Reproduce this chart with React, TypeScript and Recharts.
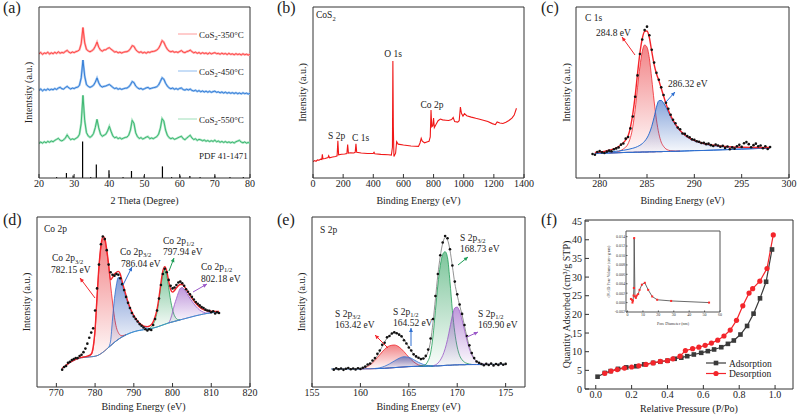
// Six-panel characterisation figure: XRD, XPS survey, C 1s, Co 2p, S 2p and N2 isotherm.
import React from 'react'
import { ComposedChart, Line, Area, Scatter, XAxis, YAxis, ReferenceLine } from 'recharts'

// ---------- (a) XRD ----------
const XRD_ANGLE = [20,20.5,21,21.5,22,22.5,23,23.5,24,24.5,25,25.5,26,26.5,27,27.5,28,28.5,29,29.5,30,30.5,31,31.5,32,32.5,33,33.5,34,34.5,35,35.5,36,36.5,37,37.5,38,38.5,39,39.5,40,40.5,41,41.5,42,42.5,43,43.5,44,44.5,45,45.5,46,46.5,47,47.5,48,48.5,49,49.5,50,50.5,51,51.5,52,52.5,53,53.5,54,54.5,55,55.5,56,56.5,57,57.5,58,58.5,59,59.5,60,60.5,61,61.5,62,62.5,63,63.5,64,64.5,65,65.5,66,66.5,67,67.5,68,68.5,69,69.5,70,70.5,71,71.5,72,72.5,73,73.5,74,74.5,75,75.5,76,76.5,77,77.5,78,78.5,79,79.5,80]
const XRD_350 = [72.6,73.4,72.3,73.1,72.8,73.6,72.5,73.2,72.7,73.5,72.9,73.8,73.0,73.4,73.2,74.0,74.6,73.6,73.1,73.7,73.3,73.9,74.2,75.0,78.5,88.0,79.0,75.2,74.3,73.8,74.4,75.2,77.0,79.5,76.4,74.8,74.2,74.9,75.0,75.8,76.2,75.3,74.5,73.7,73.9,73.2,73.6,73.1,73.5,73.8,73.9,74.4,75.6,77.4,77.0,75.1,74.0,73.4,73.8,73.1,73.5,73.0,73.7,73.4,73.9,74.0,74.3,74.8,75.8,77.8,80.3,79.4,77.0,75.3,74.2,73.8,74.1,73.5,73.8,73.4,74.0,74.5,73.6,73.3,73.9,74.2,74.8,73.9,73.2,73.6,72.9,73.4,72.7,73.3,72.8,73.1,72.5,73.2,72.6,73.0,73.3,72.7,72.9,72.4,73.0,72.5,72.8,72.2,72.9,72.3,72.6,72.1,72.7,72.2,72.5,72.0,72.6,72.1,72.4,71.9,72.3]
const XRD_450 = [51.2,52.0,51.0,51.8,51.3,52.1,51.4,51.9,51.6,52.3,51.8,52.6,53.0,52.2,52.0,52.9,53.6,52.7,52.1,52.6,52.3,52.9,53.1,54.2,58.5,69.0,59.5,54.6,53.6,53.0,53.5,54.2,56.0,58.5,55.6,53.8,53.2,53.6,53.8,54.3,54.7,53.9,53.0,52.3,52.6,51.9,52.3,51.8,52.2,52.5,52.6,53.2,54.5,56.4,55.8,53.8,52.8,52.1,52.4,51.8,52.2,52.7,53.0,52.2,52.5,52.8,53.0,53.4,54.4,56.4,58.6,57.8,55.4,53.8,52.7,52.2,52.6,51.9,52.3,51.8,52.4,52.6,51.7,51.4,51.9,51.5,52.0,51.2,50.9,51.3,50.6,51.1,50.4,50.9,50.3,50.8,50.2,50.7,50.1,50.5,50.8,50.1,50.4,49.8,50.3,49.7,50.2,49.6,50.0,49.5,49.9,49.4,49.9,49.3,49.7,49.2,49.8,49.3,49.6,49.1,49.5]
const XRD_550 = [20.2,21.0,20.4,21.2,20.6,21.4,20.9,21.6,21.2,22.0,22.6,23.2,22.1,21.7,22.3,23.4,25.2,23.6,22.4,22.9,22.5,23.2,23.8,25.5,32.0,48.3,33.5,26.5,24.6,23.8,24.5,26.0,29.5,34.3,29.2,25.6,24.4,25.0,25.6,27.5,30.2,27.2,24.6,23.5,23.9,23.0,23.5,22.8,23.3,23.7,23.9,25.0,28.0,33.7,32.0,26.4,24.2,23.1,23.6,22.8,23.3,23.9,24.2,23.0,23.4,23.0,23.6,24.2,25.6,29.0,34.7,33.2,28.0,25.0,23.6,23.0,23.4,22.6,23.0,23.5,24.0,24.4,23.0,22.4,23.3,24.2,25.0,23.4,22.5,22.9,22.0,22.6,22.3,21.8,22.2,21.5,21.9,21.3,21.8,21.4,22.1,21.2,21.6,20.9,21.4,20.8,21.3,20.7,21.1,20.6,21.0,20.5,21.2,21.6,22.0,21.0,20.6,21.1,20.4,20.8,20.3]
const PDF_ANGLE = [25.0, 27.8, 29.7, 32.4, 34.7, 36.3, 39.9, 43.9, 46.3, 49.9, 55.1, 57.7, 60.1, 62.9, 65.8, 70.0, 74.3, 78.1]
const PDF_HEIGHT = [0.6, 2.9, 1.5, 21.3, 0.6, 7.9, 4.5, 0.6, 4.1, 1.5, 6.8, 0.6, 1.5, 1.2, 0.6, 1.5, 0.6, 0.6]
const XRD_TICKS = [20, 30, 40, 50, 60, 70, 80]

// ---------- (b) survey ----------
const SURVEY_BE = [0,10,20,30,40,50,58,62,66,80,100,104,110,130,150,160,165,170,190,210,225,230,235,250,270,280,285,290,320,360,400,405,410,450,500,520,527,530,533,537,548,555,565,600,650,700,710,718,725,740,760,770,778,783,788,795,800,805,815,830,845,860,880,900,920,930,940,960,970,978,985,995,1005,1020,1050,1080,1100,1130,1160,1190,1210,1222,1240,1260,1280,1300,1320,1335,1350]
const SURVEY_I = [9.5,10.2,9.8,10.6,10.4,11.0,10.8,13.8,11.2,11.4,12.0,13.0,11.8,12.3,12.6,13.0,21.8,13.6,13.9,14.0,14.3,19.5,14.6,14.8,14.6,15.0,20.0,15.0,14.6,14.3,14.4,15.0,14.2,13.8,13.6,13.4,18,68.4,30,12.6,14.5,21.2,19.8,19.3,18.7,18.5,20.5,23.2,21.5,20.6,21.2,21.5,24,39.8,30,30.6,35.0,29.5,31.2,33.5,34.5,34.0,33.8,33.6,34.2,35.4,33.0,32.7,33.5,41.5,37.8,36.2,37.6,36.4,35.6,34.9,34.5,33.8,33.0,31.8,31.2,32.8,32.2,31.9,32.6,33.6,35.0,36.8,40.8]
const SURVEY_TICKS = [0, 200, 400, 600, 800, 1000, 1200, 1400]

// ---------- (c) C 1s ----------
const C1S_BE = [279.5,280,280.5,281,281.5,282,282.5,283,283.5,283.75,284,284.25,284.5,284.75,285,285.25,285.5,285.75,286,286.25,286.5,286.75,287,287.25,287.5,288,288.5,289,289.5,290,291,292,293,294,295,296,297,298]
const C1S_BASE = [14.4,14.5,14.5,14.6,14.7,14.8,14.9,15.0,15.0,15.1,15.1,15.1,15.2,15.2,15.2,15.3,15.3,15.3,15.4,15.4,15.4,15.5,15.5,15.5,15.6,15.6,15.7,15.8,15.9,16.0,16.1,16.3,16.5,16.7,16.9,17.1,17.3,17.5]
const C1S_P1 = [null,null,null,14.7,14.9,15.5,17,20,30,40,53,65,74,77.8,76.5,70,58,45,34,26,21,18.5,17,16.3,15.9,15.7,15.7,null,null,null,null,null,null,null,null,null,null,null]
const C1S_P2 = [14.8,15.0,15.1,15.3,15.5,15.8,16.2,16.7,17.4,17.8,18.4,19.1,20.1,21.5,23.4,26.2,30.2,35.5,41.4,45.2,45.4,43.8,41.5,38.6,35.8,31.0,27.4,24.9,23.0,21.7,19.9,18.9,18.3,17.9,17.7,17.6,17.5,17.6]
const C1S_FIT = [14.9,15.2,15.6,16.2,17.0,18.4,20.7,24.5,37.5,48,61,73,81.5,85.7,86.0,82,74,66.5,61,57,52.5,48,43.5,39.8,36.5,31.5,27.8,25.2,23.3,22.0,20.2,19.2,18.6,18.2,18.0,17.9,17.8,17.8]
const C1S_DOT_BE = [279.25,279.5,279.75,280,280.25,280.5,280.75,281,281.25,281.5,281.75,282,282.25,282.5,282.75,283,283.25,283.5,283.75,284,284.25,284.5,284.75,285,285.25,285.5,285.75,286,286.25,286.5,286.75,287,287.25,287.5,287.75,288,288.25,288.5,288.75,289,289.25,289.5,289.75,290,290.25,290.5,290.75,291,291.25,291.5,291.75,292,292.25,292.5,292.75,293,293.25,293.5,293.75,294,294.25,294.5,294.75,295,295.25,295.5,295.75,296,296.25,296.5,296.75,297,297.25,297.5,297.75,298]
const C1S_DOT_I = [14.0,13.6,15.2,15.8,15.0,14.6,15.4,16.0,15.6,16.8,17.3,17.9,19.5,20.2,23.0,24.0,29.0,36.0,47.5,60.0,72.5,81.0,86.5,88.5,83.5,75.0,67.5,61.5,57.5,53.0,48.5,44.0,40.5,37.0,34.0,32.0,29.5,28.5,26.0,25.8,24.5,23.8,22.6,22.3,21.5,21.2,20.5,20.6,19.8,20.1,19.2,18.7,19.6,19.0,18.3,18.8,17.6,18.4,16.8,17.9,17.2,18.6,19.4,18.2,20.3,21.0,19.8,18.0,19.2,20.1,18.5,19.0,17.4,18.6,17.0,18.1]
const C1S_TICKS = [280, 285, 290, 295, 300]

// ---------- (d) Co 2p ----------
const CO_BE = [771.5,772.5,773.5,774.5,775.5,776.5,777.5,778.5,779,779.5,780,780.5,781,781.5,782,782.5,783,783.5,784,784.5,785,785.5,786,786.5,787,787.5,788,788.5,789,789.5,790,790.5,791,791.5,792,792.5,793,793.5,794,794.5,795,795.5,796,796.5,797,797.5,798,798.5,799,799.5,800,800.5,801,801.5,802,802.5,803,804,805,806,807,808,809,810,811,812]
const CO_BASE = [10.9,12.6,14.3,15.6,16.6,17.2,17.5,17.7,17.8,17.9,18.1,18.4,18.9,19.6,20.4,21.3,22.3,23.3,24.3,25.3,26.3,27.2,28.0,28.8,29.5,30.1,30.7,31.2,31.7,32.1,32.5,32.8,33.1,33.3,33.5,33.7,33.9,34.0,34.2,34.4,34.7,35.0,35.3,35.7,36.1,36.5,36.9,37.3,37.7,38.0,38.3,38.6,38.9,39.2,39.5,39.8,40.1,40.7,41.3,41.9,42.4,42.9,43.3,43.7,44.0,44.3]
const CO_FIT = [11.0,12.7,14.4,15.7,16.7,17.4,17.9,18.6,19.4,23.5,34,53,71,83,88.5,87.5,81,72,63,64.5,66.5,67.5,68,66.5,62,57.8,53.8,50,46.8,44.2,42,40.2,38.7,37.5,36.6,36,35.6,35.5,35.8,36.6,38.3,41.3,45.8,52.8,61.3,68.3,70.8,68.3,62.3,57.3,55.8,56.8,58.3,59.6,60.3,60.3,59.3,55.8,52.3,49.3,47,45.5,44.8,44.6,44.5,44.5]
const CO_P1 = [null,null,null,null,null,17.3,17.7,18.3,19.0,22.5,33,52,70,82,87.5,86,80,71,60,50,41,35,32,30.5,30.2,30.4,30.9,null,null,null,null,null,null,null,null,null,null,null,null,null,null,null,null,null,null,null,null,null,null,null,null,null,null,null,null,null,null,null,null,null,null,null,null,null,null,null]
const CO_P2 = [null,null,null,null,null,null,null,null,null,null,null,null,null,null,null,null,null,23.5,27,40,52,60,64.5,64,60,56,52.3,49,46,43.5,41.3,39.6,38.2,37,36.1,35.4,34.9,34.6,34.4,34.5,null,null,null,null,null,null,null,null,null,null,null,null,null,null,null,null,null,null,null,null,null,null,null,null,null,null]
const CO_P3 = [null,null,null,null,null,null,null,null,null,null,null,null,null,null,null,null,null,null,null,null,null,null,null,null,null,null,null,null,null,null,null,null,null,null,null,null,null,34.0,34.4,35.2,36.8,39.5,44,51,59.5,66.5,68.8,65.5,58.5,51,45.5,42,40.2,39.6,39.5,null,null,null,null,null,null,null,null,null,null,null]
const CO_P4 = [null,null,null,null,null,null,null,null,null,null,null,null,null,null,null,null,null,null,null,null,null,null,null,null,null,null,null,null,null,null,null,null,null,null,null,null,null,null,null,null,null,null,null,null,null,null,null,null,37.7,40,44,48.5,52,55.5,58,58.5,57.5,54,50.5,47.5,45.3,44,43.5,43.7,null,null]
const CO_DOT_BE = [771.5,772,772.5,773,773.5,774,774.5,775,775.5,776,776.5,777,777.5,778,778.5,779,779.5,780,780.5,781,781.5,782,782.5,783,783.5,784,784.5,785,785.5,786,786.5,787,787.5,788,788.5,789,789.5,790,790.5,791,791.5,792,792.5,793,793.5,794,794.5,795,795.5,796,796.5,797,797.5,798,798.5,799,799.5,800,800.5,801,801.5,802,802.5,803,803.5,804,804.5,805,805.5,806,806.5,807,807.5,808,808.5,809,809.5,810,810.5,811,811.5,812]
const CO_DOT_I = [10.2,11.8,12.4,14.2,14.8,15.9,16.4,17.1,17.0,18.2,19.0,20.5,22.6,25.5,29.0,32.0,34.5,45,58,72,84,88.5,87,80.5,72,67.5,66,65.5,66.5,66,64,60.5,57,53,49.5,46.5,43.5,41.5,40,38.5,37,36,35,34,33.2,34,33.5,36.5,40,45,52,60,66.5,69.5,67.5,63,59.5,58,58.5,60,61.5,62,61,59.5,57.5,56,54.5,53,51.5,50,49,48,47,46.5,45.5,45,44.8,44,44.6,43.2,44.0,43.5]
const CO_TICKS = [770, 780, 790, 800, 810, 820]

// ---------- (e) S 2p ----------
const S_BE = [157,157.5,158,158.5,159,159.5,160,160.5,161,161.5,162,162.5,163,163.5,164,164.5,165,165.5,166,166.5,167,167.25,167.5,167.75,168,168.25,168.5,168.75,169,169.25,169.5,169.75,170,170.25,170.5,170.75,171,171.25,171.5,172,172.5,173,173.5,174,174.5,175]
const S_BASE = [10.6,10.6,10.6,10.6,10.6,10.6,10.6,10.7,10.7,10.8,10.9,11.0,11.2,11.4,11.6,11.8,12.0,12.1,12.2,12.2,12.3,12.3,12.3,12.4,12.4,12.5,12.6,12.7,12.8,12.8,12.9,13.0,13.0,13.1,13.1,13.1,13.2,13.2,13.2,13.2,13.2,13.2,13.3,13.3,13.3,13.3]
const S_FIT = [10.6,10.6,10.7,10.7,10.8,10.9,11.1,11.8,13.4,16.3,21,26.5,30.3,31.8,30.9,28.0,23.5,19.3,17.0,16.6,21,27,38,52,66,77,84.5,88,86.5,80.5,71,61,54,48,42.5,36,29.5,24,19.8,15.2,13.8,13.4,13.3,13.3,13.3,13.3]
const S_P1 = [null,null,null,null,null,null,10.6,11.4,13,15.6,19,22.2,24.2,24.7,23.5,20.8,17.5,14.8,13.0,12.4,null,null,null,null,null,null,null,null,null,null,null,null,null,null,null,null,null,null,null,null,null,null,null,null,null,null]
const S_P2 = [null,null,null,null,null,null,null,null,null,10.9,11.3,12.2,13.6,15.3,16.9,17.8,17.5,16.1,14.5,13.3,12.6,12.4,12.3,null,null,null,null,null,null,null,null,null,null,null,null,null,null,null,null,null,null,null,null,null,null,null]
const S_P3 = [null,null,null,null,null,null,null,null,null,null,null,null,null,null,null,null,null,null,12.2,12.5,15.5,20,30,45,60,71.5,78,79.6,76,62,45,32,23.5,18.5,16,14.6,13.9,13.5,13.3,null,null,null,null,null,null,null]
const S_P4 = [null,null,null,null,null,null,null,null,null,null,null,null,null,null,null,null,null,null,null,null,null,null,12.4,13.0,14.0,15.8,18.5,22.5,28,35,42,46.5,47,44.5,39.5,33.5,27.5,22.5,18.8,15.0,13.8,13.4,13.3,null,null,null]
const S_DOT_BE = [157.25,157.5,157.75,158,158.25,158.5,158.75,159,159.25,159.5,159.75,160,160.25,160.5,160.75,161,161.25,161.5,161.75,162,162.25,162.5,162.75,163,163.25,163.5,163.75,164,164.25,164.5,164.75,165,165.25,165.5,165.75,166,166.25,166.5,166.75,167,167.25,167.5,167.75,168,168.25,168.5,168.75,169,169.25,169.5,169.75,170,170.25,170.5,170.75,171,171.25,171.5,171.75,172,172.25,172.5,172.75,173,173.25,173.5,173.75,174,174.25,174.5,174.75,175]
const S_DOT_I = [10.2,11.0,10.4,10.9,10.1,10.7,11.2,10.4,10.9,10.3,11.0,10.6,11.3,12.0,13.2,13.8,15.6,17.0,19.5,21.5,24.8,26.0,29.2,30.0,31.5,32.2,31.6,30.8,29.8,27.5,25.6,23.2,21.5,19.2,18.0,17.2,16.4,16.8,18.3,22.0,28.5,40.0,53.5,66.5,77.5,85.0,88.8,87.5,81.0,71.5,62.0,54.5,48.5,43.0,36.5,30.0,24.5,20.0,17.0,15.0,14.2,13.5,12.8,13.6,12.9,13.8,12.7,13.5,13.0,14.0,13.1,13.6]
const S_TICKS = [155, 160, 165, 170, 175]

// ---------- (f) N2 isotherm + pore size inset ----------
const ADS_P = [0.01,0.05,0.083,0.124,0.17,0.226,0.27,0.32,0.36,0.4,0.44,0.477,0.51,0.547,0.588,0.625,0.66,0.7,0.737,0.77,0.807,0.844,0.88,0.916,0.95,0.983]
const ADS_Q = [3.3,4.3,4.8,5.4,5.8,6.1,6.6,7.0,7.3,7.6,8.1,8.4,8.8,9.25,9.7,10.15,10.6,11.2,12.1,13.0,14.6,16.9,20.2,24.3,28.75,37.4]
const DES_P = [0.05,0.085,0.12,0.16,0.2,0.24,0.28,0.32,0.36,0.4,0.43,0.47,0.5,0.54,0.575,0.61,0.645,0.68,0.715,0.75,0.785,0.82,0.855,0.875,0.915,0.955,0.99]
const DES_Q = [4.2,4.8,5.2,5.6,5.9,6.2,6.6,7.0,7.4,7.6,8.1,8.8,10.3,10.8,11.2,11.7,12.3,13.1,14.2,15.8,18.4,22.3,25.7,26.9,28.9,32.3,41.3]
const PORE_D = [2.2,3.0,3.2,3.5,3.9,4.1,4.3,4.8,5.4,6.0,6.9,7.8,9.3,11.2,13.4,16.0,19.2,28.3,52.9]
const PORE_V = [0.00077,0.00056,0.0,0.0004,0.0015,0.0031,0.0137,0.0013,0.001,0.0015,0.0018,0.0027,0.0038,0.0042,0.0027,0.0013,0.0006,0.00035,0.0]
const ISO_XTICKS = [0, 0.2, 0.4, 0.6, 0.8, 1.0]
const ISO_YTICKS = [0, 5, 10, 15, 20, 25, 30, 35, 40, 45]
const PORE_XTICKS = [0, 10, 20, 30, 40, 50, 60]
const PORE_YTICKS = [-0.002, 0, 0.002, 0.004, 0.006, 0.008, 0.01, 0.012, 0.014]

const FONT = '"Liberation Serif", "Times New Roman", serif'
const INK = '#333'
const RED = '#f3252b'
const BLUE = '#2e6fd0'
const GREEN = '#1f9d57'
const PURPLE = '#9a57c8'
const TICK = { fontSize: 10, fill: '#222', fontFamily: FONT }
const RM = 12
const MARGIN = { top: 4, right: RM, left: 0, bottom: 0 }

type Box = { l: number; r: number; t: number; b: number }
const FA: Box = { l: 39, r: 250, t: 7, b: 178 }
const FB: Box = { l: 313, r: 524, t: 7, b: 178 }
const FC: Box = { l: 576, r: 789, t: 7, b: 178 }
const FD: Box = { l: 37, r: 250, t: 217, b: 387 }
const FE: Box = { l: 312, r: 525, t: 217, b: 387 }
const FF: Box = { l: 585, r: 793, t: 220, b: 389 }
const FI: Box = { l: 626, r: 720, t: 231, b: 312 }

// chart box so that the plot area lands exactly on the frame
function dims(f: Box, yw = 42, xh = 32) {
  return { left: f.l - yw, top: f.t - 4, width: yw + (f.r - f.l) + RM, height: 4 + (f.b - f.t) + xh }
}

const xAxis = (domain: number[], ticks: number[], title: string, offset: number, fmt?: (v: number) => string) => ({
  type: 'number' as const, dataKey: 'x', domain, ticks, allowDataOverflow: true, interval: 0 as const,
  tickSize: -4, tickMargin: 6, stroke: INK, tick: TICK, height: 32, tickFormatter: fmt,
  label: { value: title, position: 'insideBottom' as const, offset, fontSize: 10, fill: '#222', fontFamily: FONT },
})
const yTitle = (title: string, offset: number) => ({
  value: title, angle: -90, position: 'insideLeft' as const, offset,
  fontSize: 10, fill: '#222', fontFamily: FONT, style: { textAnchor: 'middle' as const },
})

const rangeOf = (k: string) => (d: any) => (d[k] == null ? [d.base, null] : [d.base, d[k]])
const smallDot = (p: any) => <circle cx={p.cx} cy={p.cy} r={1.3} fill="#111" />
const square = (p: any) => <rect key={p.index} x={p.cx - 2.3} y={p.cy - 2.3} width={4.6} height={4.6} fill="#3a3a3a" />
const circle = (p: any) => <circle key={p.index} cx={p.cx} cy={p.cy} r={2.6} fill={RED} />
const poreDot = (p: any) => <rect key={p.index} x={p.cx - 1} y={p.cy - 1} width={2} height={2} fill="#ff2a2a" />

function grad(id: string, color: string) {
  return (
    <linearGradient id={id} x1="0" y1="0" x2="0" y2="1">
      <stop offset="0%" stopColor={color} stopOpacity={0.95} />
      <stop offset="100%" stopColor={color} stopOpacity={0.04} />
    </linearGradient>
  )
}

const xrdRows = XRD_ANGLE.map((x, i) => ({ x, r: XRD_350[i], b: XRD_450[i], g: XRD_550[i] }))
const surveyRows = SURVEY_BE.map((x, i) => ({ x, y: SURVEY_I[i] }))
const c1sRows = C1S_BE.map((x, i) => ({ x, base: C1S_BASE[i], fit: C1S_FIT[i], p1: C1S_P1[i], p2: C1S_P2[i] }))
const c1sDots = C1S_DOT_BE.map((x, i) => ({ x, y: C1S_DOT_I[i] }))
const coRows = CO_BE.map((x, i) => ({ x, base: CO_BASE[i], fit: CO_FIT[i], p1: CO_P1[i], p2: CO_P2[i], p3: CO_P3[i], p4: CO_P4[i] }))
const coDots = CO_DOT_BE.map((x, i) => ({ x, y: CO_DOT_I[i] }))
const sRows = S_BE.map((x, i) => ({ x, base: S_BASE[i], fit: S_FIT[i], p1: S_P1[i], p2: S_P2[i], p3: S_P3[i], p4: S_P4[i] }))
const sDots = S_DOT_BE.map((x, i) => ({ x, y: S_DOT_I[i] }))
const adsRows = ADS_P.map((x, i) => ({ x, y: ADS_Q[i] }))
const desRows = DES_P.map((x, i) => ({ x, y: DES_Q[i] }))
const poreRows = PORE_D.map((x, i) => ({ x, y: PORE_V[i] }))

// subscript tspan; "rest" continues on the normal baseline
const Sub = ({ s, rest }: { s: string; rest?: string }) => (
  <>
    <tspan dy={2.5} fontSize={6.5}>{s}</tspan>
    {rest ? <tspan dy={-2.5}>{rest}</tspan> : null}
  </>
)

function Arrow({ x1, y1, x2, y2, c }: { x1: number; y1: number; x2: number; y2: number; c: string }) {
  const a = Math.atan2(y2 - y1, x2 - x1)
  const h = 4.5
  const p1 = `${x2},${y2}`
  const p2 = `${x2 - h * Math.cos(a - 0.45)},${y2 - h * Math.sin(a - 0.45)}`
  const p3 = `${x2 - h * Math.cos(a + 0.45)},${y2 - h * Math.sin(a + 0.45)}`
  return (
    <g>
      <line x1={x1} y1={y1} x2={x2} y2={y2} stroke={c} strokeWidth={1} />
      <polygon points={`${p1} ${p2} ${p3}`} fill={c} />
    </g>
  )
}

export default function App() {
  const da = dims(FA), db = dims(FB), dc = dims(FC), dd = dims(FD), de = dims(FE), df = dims(FF), di = dims(FI, 22, 14)
  return (
    <div style={{ position: 'absolute', left: 0, top: 0, width: 798, height: 418, background: '#fff', fontFamily: FONT, overflow: 'hidden' }}>
      {/* (a) XRD */}
      <div style={{ position: 'absolute', left: da.left, top: da.top }}>
        <ComposedChart width={da.width} height={da.height} margin={MARGIN} data={xrdRows}>
          <XAxis {...xAxis([20, 80], XRD_TICKS, '2 Theta (Degree)', 6)} />
          <YAxis type="number" domain={[0, 100]} allowDataOverflow tick={false} tickLine={false} stroke={INK} width={42} label={yTitle('Intentsity (a.u.)', 31)} />
          <ReferenceLine x={80} stroke={INK} />
          <ReferenceLine y={100} stroke={INK} />
          <Line dataKey="r" type="linear" stroke="#ffaaaa" strokeWidth={2.2} dot={false} isAnimationActive={false} />
          <Line dataKey="r" type="linear" stroke="#ff3d3d" strokeWidth={0.9} dot={false} isAnimationActive={false} />
          <Line dataKey="b" type="linear" stroke="#9cc4f0" strokeWidth={2.2} dot={false} isAnimationActive={false} />
          <Line dataKey="b" type="linear" stroke="#2a76d4" strokeWidth={0.9} dot={false} isAnimationActive={false} />
          <Line dataKey="g" type="linear" stroke="#a6e3c0" strokeWidth={2.2} dot={false} isAnimationActive={false} />
          <Line dataKey="g" type="linear" stroke="#33b26a" strokeWidth={0.9} dot={false} isAnimationActive={false} />
          {PDF_ANGLE.map((a, i) => (
            <ReferenceLine key={a} segment={[{ x: a, y: 0 }, { x: a, y: PDF_HEIGHT[i] }]} stroke="#000" strokeWidth={1.2} />
          ))}
        </ComposedChart>
      </div>

      {/* (b) survey */}
      <div style={{ position: 'absolute', left: db.left, top: db.top }}>
        <ComposedChart width={db.width} height={db.height} margin={MARGIN} data={surveyRows}>
          <XAxis {...xAxis([0, 1400], SURVEY_TICKS, 'Binding Energy (eV)', 6)} />
          <YAxis type="number" domain={[0, 100]} allowDataOverflow tick={false} tickLine={false} stroke={INK} width={42} label={yTitle('Intensity (a.u.)', 31)} />
          <ReferenceLine x={1400} stroke={INK} />
          <ReferenceLine y={100} stroke={INK} />
          <Line dataKey="y" type="linear" stroke="#f01818" strokeWidth={1.1} dot={false} isAnimationActive={false} />
        </ComposedChart>
      </div>

      {/* (c) C 1s */}
      <div style={{ position: 'absolute', left: dc.left, top: dc.top }}>
        <ComposedChart width={dc.width} height={dc.height} margin={MARGIN} data={c1sRows}>
          <defs>
            {grad('c1', '#e8262b')}
            {grad('c2', '#2a5fbf')}
          </defs>
          <XAxis {...xAxis([277.5, 300], C1S_TICKS, 'Binding Energy (eV)', 6)} />
          <YAxis type="number" domain={[0, 100]} allowDataOverflow tick={false} tickLine={false} stroke={INK} width={42} label={yTitle('Intensity (a.u.)', 32.5)} />
          <ReferenceLine x={300} stroke={INK} />
          <ReferenceLine y={100} stroke={INK} />
          <Area dataKey={rangeOf('p1')} type="monotone" stroke={RED} strokeWidth={0.8} fill="url(#c1)" isAnimationActive={false} />
          <Area dataKey={rangeOf('p2')} type="monotone" stroke={BLUE} strokeWidth={1} fill="url(#c2)" isAnimationActive={false} />
          <Line dataKey="base" type="monotone" stroke={BLUE} strokeWidth={1} dot={false} isAnimationActive={false} />
          <Line dataKey="fit" type="monotone" stroke={RED} strokeWidth={1.4} dot={false} isAnimationActive={false} />
          <Scatter data={c1sDots} dataKey="y" shape={smallDot} isAnimationActive={false} />
        </ComposedChart>
      </div>

      {/* (d) Co 2p */}
      <div style={{ position: 'absolute', left: dd.left, top: dd.top }}>
        <ComposedChart width={dd.width} height={dd.height} margin={MARGIN} data={coRows}>
          <defs>
            {grad('d1', '#e8262b')}
            {grad('d2', '#2050b8')}
            {grad('d3', '#1c9a50')}
            {grad('d4', '#8e48c0')}
          </defs>
          <XAxis {...xAxis([765, 820], CO_TICKS, 'Binding Energy (eV)', 9)} />
          <YAxis type="number" domain={[0, 100]} allowDataOverflow tick={false} tickLine={false} stroke={INK} width={42} label={yTitle('Intensity (a.u.)', 31.7)} />
          <ReferenceLine x={820} stroke={INK} />
          <ReferenceLine y={100} stroke={INK} />
          <Area dataKey={rangeOf('p1')} type="monotone" stroke={RED} strokeWidth={0.8} fill="url(#d1)" isAnimationActive={false} />
          <Area dataKey={rangeOf('p2')} type="monotone" stroke={BLUE} strokeWidth={0.8} fill="url(#d2)" isAnimationActive={false} />
          <Area dataKey={rangeOf('p3')} type="monotone" stroke={GREEN} strokeWidth={0.8} fill="url(#d3)" isAnimationActive={false} />
          <Area dataKey={rangeOf('p4')} type="monotone" stroke={PURPLE} strokeWidth={0.8} fill="url(#d4)" isAnimationActive={false} />
          <Line dataKey="base" type="monotone" stroke="#3a92cf" strokeWidth={1} dot={false} isAnimationActive={false} />
          <Line dataKey="fit" type="monotone" stroke={RED} strokeWidth={1.4} dot={false} isAnimationActive={false} />
          <Scatter data={coDots} dataKey="y" shape={smallDot} isAnimationActive={false} />
        </ComposedChart>
      </div>

      {/* (e) S 2p */}
      <div style={{ position: 'absolute', left: de.left, top: de.top }}>
        <ComposedChart width={de.width} height={de.height} margin={MARGIN} data={sRows}>
          <defs>
            {grad('e1', '#e8262b')}
            {grad('e2', '#2050b8')}
            {grad('e3', '#1c9a50')}
            {grad('e4', '#8e48c0')}
          </defs>
          <XAxis {...xAxis([155, 177], S_TICKS, 'Binding Energy (eV)', 9)} />
          <YAxis type="number" domain={[0, 100]} allowDataOverflow tick={false} tickLine={false} stroke={INK} width={42} label={yTitle('Intensity (a.u.)', 31.7)} />
          <ReferenceLine x={177} stroke={INK} />
          <ReferenceLine y={100} stroke={INK} />
          <Area dataKey={rangeOf('p1')} type="monotone" stroke={RED} strokeWidth={0.8} fill="url(#e1)" isAnimationActive={false} />
          <Area dataKey={rangeOf('p2')} type="monotone" stroke={BLUE} strokeWidth={0.8} fill="url(#e2)" isAnimationActive={false} />
          <Area dataKey={rangeOf('p3')} type="monotone" stroke={GREEN} strokeWidth={0.8} fill="url(#e3)" isAnimationActive={false} />
          <Area dataKey={rangeOf('p4')} type="monotone" stroke={PURPLE} strokeWidth={0.8} fill="url(#e4)" isAnimationActive={false} />
          <Line dataKey="base" type="monotone" stroke="#2e6fd0" strokeWidth={1} dot={false} isAnimationActive={false} />
          <Line dataKey="fit" type="monotone" stroke="#777" strokeWidth={0.8} dot={false} isAnimationActive={false} />
          <Scatter data={sDots} dataKey="y" shape={smallDot} isAnimationActive={false} />
        </ComposedChart>
      </div>

      {/* (f) isotherm */}
      <div style={{ position: 'absolute', left: df.left, top: df.top }}>
        <ComposedChart width={df.width} height={df.height} margin={MARGIN}>
          <XAxis {...xAxis([-0.06, 1.1], ISO_XTICKS, 'Relative Pressure (P/Po)', 9.5, (v) => v.toFixed(1))} />
          <YAxis type="number" domain={[0, 45.3]} ticks={ISO_YTICKS} allowDataOverflow interval={0} tickSize={-4} tickMargin={7}
            stroke={INK} tick={TICK} width={42} label={yTitle('Quantity Adsorbed (cm³/g STP)', 23.7)} />
          <ReferenceLine x={1.1} stroke={INK} />
          <ReferenceLine y={45.3} stroke={INK} />
          <Line data={adsRows} dataKey="y" type="linear" stroke="#3a3a3a" strokeWidth={1.2} dot={square} isAnimationActive={false} />
          <Line data={desRows} dataKey="y" type="linear" stroke={RED} strokeWidth={1.2} dot={circle} isAnimationActive={false} />
        </ComposedChart>
      </div>

      {/* (f) inset: pore size distribution */}
      <div style={{ position: 'absolute', left: di.left, top: di.top }}>
        <ComposedChart width={di.width} height={di.height} margin={MARGIN} data={poreRows}>
          <XAxis type="number" dataKey="x" domain={[-1, 60]} ticks={PORE_XTICKS} allowDataOverflow interval={0}
            tickSize={-1.5} tickMargin={2.5} stroke="#555" tick={{ fontSize: 4, fill: '#333', fontFamily: FONT }} height={14}
            label={{ value: 'Pore Diameter (nm)', position: 'insideBottom', offset: 1, fontSize: 4, fill: '#333', fontFamily: FONT }} />
          <YAxis type="number" domain={[-0.002, 0.0152]} ticks={PORE_YTICKS} allowDataOverflow interval={0}
            tickSize={-1.5} tickMargin={2.5} stroke="#555" tick={{ fontSize: 4, fill: '#333', fontFamily: FONT }} width={22}
            tickFormatter={(v: number) => v.toFixed(3)}
            label={{ value: 'dV/dD Pore Volume (cm³/g·nm)', angle: -90, position: 'insideLeft', offset: 5, fontSize: 4, fill: '#333', fontFamily: FONT, style: { textAnchor: 'middle' } }} />
          <ReferenceLine x={60} stroke="#555" />
          <ReferenceLine y={0.0152} stroke="#555" />
          <Line dataKey="y" type="linear" stroke="#444" strokeWidth={0.8} dot={poreDot} isAnimationActive={false} />
        </ComposedChart>
      </div>

      {/* labels, legends and arrows */}
      <svg width={798} height={418} style={{ position: 'absolute', left: 0, top: 0, pointerEvents: 'none' }} fontFamily={FONT} fill="#222">
        <g fontSize={16}>
          <text x={3} y={13}>(a)</text>
          <text x={277} y={13}>(b)</text>
          <text x={541} y={13}>(c)</text>
          <text x={3} y={225}>(d)</text>
          <text x={277} y={225}>(e)</text>
          <text x={541} y={225}>(f)</text>
        </g>

        {/* (a) legend */}
        <g fontSize={9}>
          <line x1={178} x2={197} y1={34} y2={34} stroke="#ff9a9a" />
          <text x={199} y={37.5}>CoS<Sub s="2" rest="-350°C" /></text>
          <line x1={178} x2={197} y1={71} y2={71} stroke="#8fbcef" />
          <text x={199} y={74.5}>CoS<Sub s="2" rest="-450°C" /></text>
          <line x1={178} x2={197} y1={119} y2={119} stroke="#9edfb9" />
          <text x={199} y={122.5}>CoS<Sub s="2" rest="-550°C" /></text>
          <text x={199} y={159}>PDF 41-1471</text>
        </g>

        {/* (b) */}
        <g fontSize={9.5}>
          <text x={316} y={18}>CoS<Sub s="2" /></text>
          <text x={393} y={56.5} textAnchor="middle">O 1s</text>
          <text x={432} y={107.5} textAnchor="middle">Co 2p</text>
          <text x={328} y={138.5}>S 2p</text>
          <text x={352} y={140.5}>C 1s</text>
        </g>

        {/* (c) */}
        <g fontSize={9.5}>
          <text x={585} y={20.5}>C 1s</text>
          <text x={596} y={35.5}>284.8 eV</text>
          <text x={668} y={86.5}>286.32 eV</text>
        </g>
        <Arrow x1={635} y1={55} x2={622} y2={37} c={RED} />
        <Arrow x1={666} y1={102} x2={675} y2={92} c={BLUE} />

        {/* (d) */}
        <g fontSize={9.5}>
          <text x={44} y={231.5}>Co 2p</text>
          <text x={52} y={261}>Co 2p<Sub s="3/2" /></text>
          <text x={51} y={272.5}>782.15 eV</text>
          <text x={120} y={254.5}>Co 2p<Sub s="3/2" /></text>
          <text x={121} y={266.5}>786.04 eV</text>
          <text x={163} y={243.5}>Co 2p<Sub s="1/2" /></text>
          <text x={163} y={254.5}>797.94 eV</text>
          <text x={201} y={269.5}>Co 2p<Sub s="1/2" /></text>
          <text x={201} y={281.5}>802.18 eV</text>
        </g>
        <Arrow x1={95} y1={298} x2={80} y2={278} c={RED} />
        <Arrow x1={123} y1={285} x2={132} y2={267} c={BLUE} />
        <Arrow x1={169} y1={271} x2={174} y2={258} c={GREEN} />
        <Arrow x1={193} y1={292} x2={207} y2={284} c={PURPLE} />

        {/* (e) */}
        <g fontSize={9.5}>
          <text x={320} y={232.5}>S 2p</text>
          <text x={335} y={316.5}>S 2p<Sub s="3/2" /></text>
          <text x={335} y={327.5}>163.42 eV</text>
          <text x={393} y={314.5}>S 2p<Sub s="1/2" /></text>
          <text x={393} y={325.5}>164.52 eV</text>
          <text x={460} y={240.5}>S 2p<Sub s="3/2" /></text>
          <text x={460} y={251.5}>168.73 eV</text>
          <text x={478} y={316.5}>S 2p<Sub s="1/2" /></text>
          <text x={478} y={327.5}>169.90 eV</text>
        </g>
        <Arrow x1={388} y1={348} x2={375} y2={335} c={RED} />
        <Arrow x1={411} y1={346} x2={411} y2={328} c={BLUE} />
        <Arrow x1={458} y1={265} x2={468} y2={257} c={GREEN} />
        <Arrow x1={467} y1={337} x2={478} y2={332} c={PURPLE} />

        {/* (f) legend */}
        <g fontSize={9.5}>
          <line x1={706} x2={726} y1={363} y2={363} stroke="#3a3a3a" strokeWidth={1.2} />
          <rect x={713.7} y={360.7} width={4.6} height={4.6} fill="#3a3a3a" />
          <text x={729} y={366.5}>Adsorption</text>
          <line x1={706} x2={726} y1={373.5} y2={373.5} stroke={RED} strokeWidth={1.2} />
          <circle cx={716} cy={373.5} r={2.6} fill={RED} />
          <text x={729} y={377}>Desorption</text>
        </g>
      </svg>
    </div>
  )
}
